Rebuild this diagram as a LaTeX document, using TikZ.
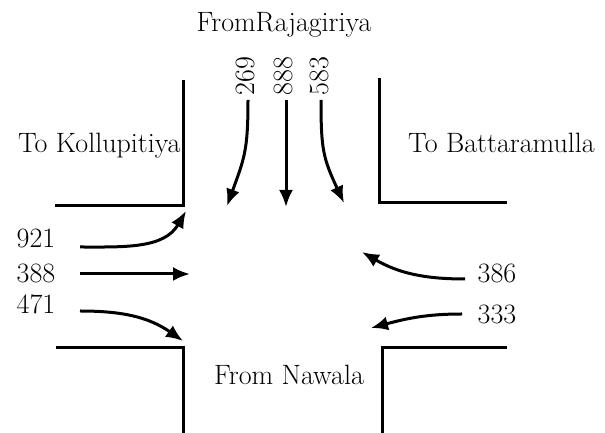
\documentclass[tikz,border=0pt]{standalone}
\usepackage{tikz}
\usetikzlibrary{arrows.meta}
\tikzset{>=latex}
\tikzset{road/.style = {line width=3pt, line cap=butt, line join=miter}}
\tikzset{flow/.style = {-{Latex[length=17pt, width=14pt]}, line width=3pt}}
\tikzset{txt/.style = {draw=none, inner sep=0pt, font=\fontsize{28}{33}\selectfont}}

\begin{document}
\begin{tikzpicture}[x=1pt, y=1pt]
\useasboundingbox (0, 0) rectangle (605, 433);
% kerbs
\draw [road] (55, 227) -- (183, 227) -- (183, 353);
\draw [road] (379, 355) -- (379, 230) -- (507, 230);
\draw [road] (56, 85) -- (183, 85) -- (183, 0);
\draw [road] (382, 0) -- (382, 85) -- (507, 85);
% road names
\node [txt] (N) at (284, 408) {FromRajagiriya};
\node [txt, anchor=west] (W) at (18, 287) {To Kollupitiya};
\node [txt, anchor=west] (E) at (408, 290) {To Battaramulla};
\node [txt] (S) at (289, 58) {From Nawala};
% counts
\node [txt, rotate=90] (n269) at (245, 357) {269};
\node [txt, rotate=90] (n888) at (283, 357) {888};
\node [txt, rotate=90] (n583) at (319, 357) {583};
\node [txt] (n921) at (36, 195) {921};
\node [txt] (n388) at (36, 160) {388};
\node [txt] (n471) at (36, 129) {471};
\node [txt] (n386) at (497, 160) {386};
\node [txt] (n333) at (497, 119) {333};
% arrow ends
\coordinate (s269) at (248, 333);
\coordinate (t269) at (227, 227);
\coordinate (s888) at (286, 333);
\coordinate (t888) at (286, 226);
\coordinate (s583) at (321, 333);
\coordinate (t583) at (344, 230);
\coordinate (s921) at (80, 186);
\coordinate (t921) at (186, 222);
\coordinate (s388) at (80, 159);
\coordinate (t388) at (190, 159);
\coordinate (s471) at (80, 122);
\coordinate (t471) at (183, 92);
\coordinate (s386) at (465, 154);
\coordinate (t386) at (362, 181);
\coordinate (s333) at (462, 119);
\coordinate (t333) at (371, 105);
\draw [flow] (s269) to [out=-90, in=70, looseness=1.2] (t269);
\draw [flow] (s888) -- (t888);
\draw [flow] (s583) to [out=-90, in=115, looseness=1.2] (t583);
\draw [flow] (s921) to [out=0, in=-120] (t921);
\draw [flow] (s388) -- (t388);
\draw [flow] (s471) to [out=0, in=145] (t471);
\draw [flow] (s386) to [out=180, in=-30] (t386);
\draw [flow] (s333) to [out=180, in=15] (t333);
\end{tikzpicture}
\end{document}
